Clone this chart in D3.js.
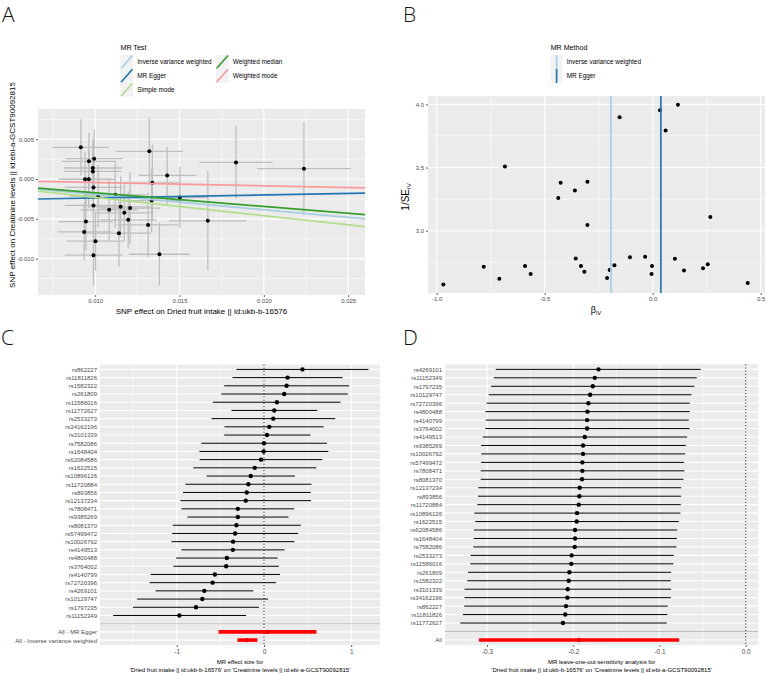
<!DOCTYPE html>
<html>
<head>
<meta charset="utf-8">
<script src="https://cdn.jsdelivr.net/npm/d3@7"></script>
<style>
  body { margin: 0; background: #fff; }
  svg { display: block; }
</style>
</head>
<body>
<div id="chart"></div>
<script>
// ===== Panel A: scatter (SNP effects on exposure vs outcome) =====
const aBx  = [0.00915,0.00963,0.00994,0.00986,0.00986,0.00940,0.00962,0.00990,0.01018,0.00990,0.01083,0.01151,0.01173,0.01207,0.01196,0.00945,0.00935,0.01141,0.01002,0.00990,0.01321,0.01339,0.01427,0.01314,0.01381,0.01119,0.01335,0.01502,0.01668,0.01835,0.02238];
const aBy  = [0.00398,0.00222,0.00256,0.00139,0.00096,-0.00002,-0.00004,-0.00106,-0.00214,-0.00332,-0.00387,-0.00349,-0.00424,-0.00365,-0.00513,-0.00534,-0.00664,-0.00680,-0.00781,-0.00957,0.00348,-0.00047,0.00045,-0.00576,-0.00945,-0.00198,-0.00270,-0.00232,-0.00525,0.00209,0.00130];
const aSeX = [0.00166,0.00160,0.00170,0.00170,0.00170,0.00160,0.00160,0.00170,0.00170,0.00170,0.00170,0.00180,0.00170,0.00180,0.00170,0.00160,0.00160,0.00190,0.00170,0.00170,0.00200,0.00170,0.00170,0.00180,0.00180,0.00190,0.00180,0.00170,0.00230,0.00217,0.00278];
const aSeY = [0.00354,0.00357,0.00363,0.00368,0.00357,0.00346,0.00363,0.00356,0.00389,0.00365,0.00390,0.00380,0.00354,0.00450,0.00355,0.00357,0.00358,0.00422,0.00370,0.00385,0.00426,0.00480,0.00360,0.00405,0.00394,0.00413,0.00400,0.00385,0.00625,0.00460,0.00580];
const aMethods = ["Inverse variance weighted","MR Egger","Simple mode","Weighted median","Weighted mode"];
const aSlopes  = [-0.193, 0.038, -0.230, -0.172, -0.043];
const aInter   = [0, -0.00276, 0, 0, 0];
const aColors  = ["#a6cee3","#1f78b4","#b2df8a","#33a02c","#fb9a99"];

// ===== Panel B: funnel =====
const bBeta  = [-0.969,-0.782,-0.710,-0.684,-0.591,-0.565,-0.437,-0.426,-0.360,-0.356,-0.332,-0.316,-0.302,-0.302,-0.211,-0.199,-0.177,-0.153,-0.105,-0.035,-0.003,-0.005,0.034,0.060,0.103,0.117,0.145,0.233,0.255,0.267,0.440];
const bInvSE = [2.575,2.715,2.620,3.509,2.720,2.657,3.259,3.380,3.319,2.781,2.720,2.675,3.388,3.045,2.625,2.689,2.726,3.897,2.789,2.794,2.720,2.657,3.953,3.792,2.778,3.997,2.686,2.702,2.734,3.108,2.586];
const bMethods = ["Inverse variance weighted","MR Egger"];
const bEst     = [-0.193, 0.038];

// ===== Panel C: single SNP forest =====
const cSnp  = ["rs862227","rs11811826","rs1582322","rs261809","rs11586016","rs11772627","rs2533273","rs34162196","rs3101339","rs7582086","rs1648404","rs62084586","rs1622515","rs10896126","rs11720884","rs893856","rs12137234","rs7808471","rs9385269","rs8081370","rs57499472","rs10026792","rs4149513","rs4800488","rs3764002","rs4140799","rs72720396","rs4269101","rs10129747","rs1797235","rs11152349"];
const cBeta = [0.441,0.270,0.259,0.232,0.148,0.118,0.106,0.061,0.034,0.000,-0.004,-0.034,-0.106,-0.152,-0.179,-0.198,-0.209,-0.300,-0.300,-0.316,-0.331,-0.354,-0.357,-0.426,-0.433,-0.563,-0.589,-0.684,-0.707,-0.779,-0.970];
const cLo   = [-0.316,-0.361,-0.456,-0.490,-0.586,-0.373,-0.601,-0.452,-0.456,-0.719,-0.741,-0.738,-0.810,-0.658,-0.901,-0.928,-0.958,-0.947,-0.878,-1.046,-1.053,-1.061,-0.947,-1.008,-1.038,-1.300,-1.312,-1.243,-1.456,-1.502,-1.730];
const cHi   = [1.198,0.901,0.977,0.962,0.878,0.612,0.817,0.684,0.532,0.722,0.738,0.669,0.601,0.354,0.544,0.536,0.540,0.346,0.281,0.422,0.392,0.350,0.236,0.156,0.171,0.183,0.137,-0.122,0.046,-0.057,-0.205];
const cSumLabel = ["All - MR Egger","All - Inverse variance weighted"];
const cSumBeta  = [0.038,-0.194];
const cSumLo    = [-0.521,-0.304];
const cSumHi    = [0.601,-0.076];

// ===== Panel D: leave-one-out =====
const dSnp  = ["rs4269101","rs11152349","rs1797235","rs10129747","rs72720396","rs4800488","rs4140799","rs3764002","rs4149513","rs9385269","rs10026792","rs57499472","rs7808471","rs8081370","rs12137234","rs893856","rs11720884","rs10896126","rs1622515","rs62084586","rs1648404","rs7582086","rs2533273","rs11586016","rs261809","rs1582322","rs3101339","rs34162196","rs862227","rs11811826","rs11772627"];
const dBeta = [-0.1707,-0.1750,-0.1773,-0.1804,-0.1824,-0.1835,-0.1839,-0.1839,-0.1866,-0.1886,-0.1886,-0.1894,-0.1894,-0.1898,-0.1925,-0.1929,-0.1936,-0.1956,-0.1960,-0.1979,-0.1979,-0.1983,-0.2018,-0.2022,-0.2045,-0.2053,-0.2064,-0.2068,-0.2084,-0.2092,-0.2119];
const dLo   = [-0.2899,-0.2922,-0.2953,-0.2980,-0.3004,-0.3019,-0.3015,-0.3019,-0.3050,-0.3069,-0.3066,-0.3069,-0.3073,-0.3073,-0.3101,-0.3104,-0.3112,-0.3147,-0.3135,-0.3151,-0.3155,-0.3159,-0.3190,-0.3194,-0.3221,-0.3229,-0.3260,-0.3260,-0.3264,-0.3279,-0.3310];
const dHi   = [-0.0520,-0.0567,-0.0594,-0.0629,-0.0648,-0.0648,-0.0660,-0.0652,-0.0679,-0.0695,-0.0702,-0.0714,-0.0710,-0.0722,-0.0749,-0.0749,-0.0753,-0.0757,-0.0776,-0.0795,-0.0799,-0.0803,-0.0834,-0.0838,-0.0865,-0.0869,-0.0865,-0.0869,-0.0904,-0.0908,-0.0916];
const dAll  = {label: "All", beta: -0.1932, lo: -0.3093, hi: -0.0772};

const FONT = "'Liberation Sans', Arial, Helvetica, sans-serif";
const svg = d3.select("#chart").append("svg").attr("width", 767).attr("height", 675)
  .attr("font-family", FONT);

// gray panel + white grid
function frame(x0, x1, y0, y1, vMaj, vMin, hMaj, hMin) {
  const g = svg.append("g");
  g.append("rect").attr("x", x0).attr("y", y0).attr("width", x1 - x0).attr("height", y1 - y0).attr("fill", "#ebebeb");
  const vl = (arr, w) => g.selectAll(null).data(arr).join("line")
    .attr("x1", d => d).attr("x2", d => d).attr("y1", y0).attr("y2", y1)
    .attr("stroke", "#fff").attr("stroke-width", w);
  const hl = (arr, w) => g.selectAll(null).data(arr).join("line")
    .attr("y1", d => d).attr("y2", d => d).attr("x1", x0).attr("x2", x1)
    .attr("stroke", "#fff").attr("stroke-width", w);
  vl(vMin, 0.55); hl(hMin, 0.55); vl(vMaj, 1.1); hl(hMaj, 1.1);
  return g;
}

function styleAxis(g, size) {
  g.attr("font-family", FONT).attr("font-size", size);
  g.select(".domain").remove();
  g.selectAll(".tick line").attr("stroke", "#333").attr("stroke-width", 0.8);
  g.selectAll(".tick text").attr("fill", "#4d4d4d");
}

function letter(t, x, y) {
  svg.append("text").attr("x", x).attr("y", y).text(t)
    .attr("font-size", 21).attr("font-weight", 300)
    .attr("font-family", "'Open Sans', 'Liberation Sans', sans-serif").attr("fill", "#111");
}

// ---------- A ----------
{
  const x = d3.scaleLinear().domain([0.00661, 0.0260]).range([38, 365]);
  const y = d3.scaleLinear().domain([0.0088, -0.01457]).range([109, 295]);
  frame(38, 365, 109, 295,
    [0.010, 0.015, 0.020, 0.025].map(x), [0.0075, 0.0125, 0.0175, 0.0225].map(x),
    [0.005, 0, -0.005, -0.010].map(y), [0.0075, 0.0025, -0.0025, -0.0075, -0.0125].map(y));

  svg.append("clipPath").attr("id", "clipA").append("rect")
    .attr("x", 38).attr("y", 109).attr("width", 327).attr("height", 186);
  const g = svg.append("g").attr("clip-path", "url(#clipA)");
  const idx = d3.range(aBx.length);
  g.selectAll(null).data(idx).join("line")
    .attr("x1", i => x(aBx[i])).attr("x2", i => x(aBx[i]))
    .attr("y1", i => y(aBy[i] - aSeY[i])).attr("y2", i => y(aBy[i] + aSeY[i]))
    .attr("stroke", "#bebebe").attr("stroke-width", 1.3);
  g.selectAll(null).data(idx).join("line")
    .attr("y1", i => y(aBy[i])).attr("y2", i => y(aBy[i]))
    .attr("x1", i => x(aBx[i] - aSeX[i])).attr("x2", i => x(aBx[i] + aSeX[i]))
    .attr("stroke", "#bebebe").attr("stroke-width", 1.3);
  g.selectAll(null).data(idx).join("circle")
    .attr("cx", i => x(aBx[i])).attr("cy", i => y(aBy[i])).attr("r", 2).attr("fill", "#000");
  const [xa, xb] = x.domain();
  g.selectAll(null).data(d3.range(aMethods.length)).join("line")
    .attr("x1", x(xa)).attr("x2", x(xb))
    .attr("y1", i => y(aInter[i] + aSlopes[i] * xa)).attr("y2", i => y(aInter[i] + aSlopes[i] * xb))
    .attr("stroke", i => aColors[i]).attr("stroke-width", 1.7);

  const ax = svg.append("g").attr("transform", "translate(0,295)")
    .call(d3.axisBottom(x).tickValues([0.010, 0.015, 0.020, 0.025]).tickSize(2).tickPadding(2).tickFormat(d => d.toFixed(3)));
  styleAxis(ax, 6);
  const ay = svg.append("g").attr("transform", "translate(38,0)")
    .call(d3.axisLeft(y).tickValues([0.005, 0, -0.005, -0.010]).tickSize(2).tickPadding(2).tickFormat(d => d.toFixed(3)));
  styleAxis(ay, 6);

  svg.append("text").attr("x", 201.5).attr("y", 313.5).attr("text-anchor", "middle").attr("font-size", 8)
    .text("SNP effect on Dried fruit intake || id:ukb-b-16576");
  svg.append("text").attr("transform", "translate(15,185) rotate(-90)").attr("text-anchor", "middle").attr("font-size", 8)
    .text("SNP effect on Creatinine levels || id:ebi-a-GCST90092815");

  // legend
  svg.append("text").attr("x", 120.5).attr("y", 49.5).attr("font-size", 7.1).text("MR Test");
  const pos = [[120.5, 62], [120.5, 75.7], [120.5, 89.7], [216, 62], [216, 75.7]];
  const lg = svg.append("g").selectAll("g").data(d3.range(aMethods.length)).join("g")
    .attr("transform", i => `translate(${pos[i][0]},${pos[i][1]})`);
  lg.append("rect").attr("x", 0).attr("y", -7).attr("width", 12.5).attr("height", 14).attr("fill", "#f2f2f2");
  lg.append("line").attr("x1", 0.5).attr("y1", 6.5).attr("x2", 12).attr("y2", -6.5)
    .attr("stroke", i => aColors[i]).attr("stroke-width", 1.7);
  lg.append("text").attr("x", 16.8).attr("y", 2.2).attr("font-size", 6.4).text(i => aMethods[i]);

  letter("A", 2, 21.7);
}

// ---------- B ----------
{
  const x = d3.scaleLinear().domain([-1.04, 0.52]).range([428, 765]);
  const y = d3.scaleLinear().domain([4.066, 2.507]).range([96, 293]);
  frame(428, 765, 96, 293,
    [-1.0, -0.5, 0.0, 0.5].map(x), [-0.75, -0.25, 0.25].map(x),
    [3.0, 3.5, 4.0].map(y), [2.75, 3.25, 3.75].map(y));
  svg.append("g").selectAll("circle").data(d3.range(bBeta.length)).join("circle")
    .attr("cx", i => x(bBeta[i])).attr("cy", i => y(bInvSE[i])).attr("r", 2).attr("fill", "#000");
  svg.append("g").selectAll("line").data(d3.range(bEst.length)).join("line")
    .attr("x1", i => x(bEst[i])).attr("x2", i => x(bEst[i])).attr("y1", 96).attr("y2", 293)
    .attr("stroke", i => aColors[i]).attr("stroke-width", 1.7);

  const ax = svg.append("g").attr("transform", "translate(0,293)")
    .call(d3.axisBottom(x).tickValues([-1.0, -0.5, 0.0, 0.5]).tickSize(2).tickPadding(2).tickFormat(d => d.toFixed(1)));
  styleAxis(ax, 6);
  const ay = svg.append("g").attr("transform", "translate(428,0)")
    .call(d3.axisLeft(y).tickValues([3.0, 3.5, 4.0]).tickSize(2).tickPadding(2).tickFormat(d => d.toFixed(1)));
  styleAxis(ay, 6);

  const xt = svg.append("text").attr("x", 596).attr("y", 313).attr("text-anchor", "middle").attr("font-size", 9);
  xt.append("tspan").text("β");
  xt.append("tspan").attr("font-size", 5.5).attr("dy", 1.5).text("IV");
  const yt = svg.append("text").attr("transform", "translate(409,197) rotate(-90)").attr("text-anchor", "middle").attr("font-size", 10);
  yt.append("tspan").text("1/SE");
  yt.append("tspan").attr("font-size", 6).attr("dy", 1.5).text("IV");

  svg.append("text").attr("x", 550.7).attr("y", 49.5).attr("font-size", 7.1).text("MR Method");
  const pos = [62, 76];
  const lg = svg.append("g").selectAll("g").data(d3.range(bMethods.length)).join("g")
    .attr("transform", i => `translate(550.7,${pos[i]})`);
  lg.append("rect").attr("x", 0).attr("y", -7).attr("width", 11.7).attr("height", 14).attr("fill", "#f2f2f2");
  lg.append("line").attr("x1", 5.9).attr("x2", 5.9).attr("y1", -7).attr("y2", 7)
    .attr("stroke", i => aColors[i]).attr("stroke-width", 1.7);
  lg.append("text").attr("x", 16).attr("y", 2.2).attr("font-size", 6.4).text(i => bMethods[i]);

  letter("B", 403, 21.7);
}

// ---------- forest helper (C and D) ----------
function forest(opts) {
  const { rows, beta, lo, hi, sumRows, sumBeta, sumLo, sumHi, x, x0, x1, y0, y1, xMaj, xMin, fmt, title1, title2 } = opts;
  const levels = rows.concat([" "], sumRows);
  const y = d3.scalePoint().domain(levels).range([y0, y1]).padding(0.6);
  frame(x0, x1, y0, y1, xMaj.map(x), xMin.map(x), levels.map(y), []);

  // grey separator at blank level
  svg.append("line").attr("x1", x0).attr("x2", x1).attr("y1", y(" ")).attr("y2", y(" "))
    .attr("stroke", "#bebebe").attr("stroke-width", 1.1);
  // null line
  svg.append("line").attr("x1", x(0)).attr("x2", x(0)).attr("y1", y0).attr("y2", y1)
    .attr("stroke", "#000").attr("stroke-width", 1).attr("stroke-dasharray", "1,2.2");

  const g = svg.append("g");
  g.selectAll(null).data(d3.range(rows.length)).join("line")
    .attr("x1", i => x(lo[i])).attr("x2", i => x(hi[i]))
    .attr("y1", i => y(rows[i])).attr("y2", i => y(rows[i]))
    .attr("stroke", "#000").attr("stroke-width", 1);
  g.selectAll(null).data(d3.range(rows.length)).join("circle")
    .attr("cx", i => x(beta[i])).attr("cy", i => y(rows[i])).attr("r", 2.2).attr("fill", "#000");
  g.selectAll(null).data(d3.range(sumRows.length)).join("line")
    .attr("x1", i => x(sumLo[i])).attr("x2", i => x(sumHi[i]))
    .attr("y1", i => y(sumRows[i])).attr("y2", i => y(sumRows[i]))
    .attr("stroke", "#ff0000").attr("stroke-width", 3.6);
  g.selectAll(null).data(d3.range(sumRows.length)).join("circle")
    .attr("cx", i => x(sumBeta[i])).attr("cy", i => y(sumRows[i])).attr("r", 2.2).attr("fill", "#f00000");

  const ay = svg.append("g").attr("transform", `translate(${x0},0)`)
    .call(d3.axisLeft(y).tickSize(0).tickPadding(3));
  styleAxis(ay, 6);
  const ax = svg.append("g").attr("transform", `translate(0,${y1})`)
    .call(d3.axisBottom(x).tickValues(xMaj).tickSize(2).tickPadding(2).tickFormat(fmt));
  styleAxis(ax, 6.5);

  const cx = (x0 + x1) / 2;
  svg.append("text").attr("x", cx).attr("y", 663.5).attr("text-anchor", "middle").attr("font-size", 6).text(title1);
  svg.append("text").attr("x", cx).attr("y", 672).attr("text-anchor", "middle").attr("font-size", 6).text(title2);
}

const subtitle = "'Dried fruit intake || id:ukb-b-16576' on 'Creatinine levels || id:ebi-a-GCST90092815'";

// ---------- C ----------
forest({
  rows: cSnp, beta: cBeta, lo: cLo, hi: cHi,
  sumRows: cSumLabel, sumBeta: cSumBeta, sumLo: cSumLo, sumHi: cSumHi,
  x: d3.scaleLinear().domain([-1.88, 1.33]).range([100, 380]),
  x0: 100, x1: 380, y0: 364.5, y1: 645,
  xMaj: [-1, 0, 1], xMin: [-1.5, -0.5, 0.5],
  fmt: d => String(d),
  title1: "MR effect size for", title2: subtitle
});
letter("C", 1, 345);

// ---------- D ----------
forest({
  rows: dSnp, beta: dBeta, lo: dLo, hi: dHi,
  sumRows: [dAll.label], sumBeta: [dAll.beta], sumLo: [dAll.lo], sumHi: [dAll.hi],
  x: d3.scaleLinear().domain([-0.3487, 0.0146]).range([445, 758.3]),
  x0: 445, x1: 758.3, y0: 364.3, y1: 645,
  xMaj: [-0.3, -0.2, -0.1, 0.0], xMin: [-0.25, -0.15, -0.05],
  fmt: d => d.toFixed(1),
  title1: "MR leave-one-out sensitivity analysis for", title2: subtitle
});
letter("D", 403, 345);
</script>
</body>
</html>
